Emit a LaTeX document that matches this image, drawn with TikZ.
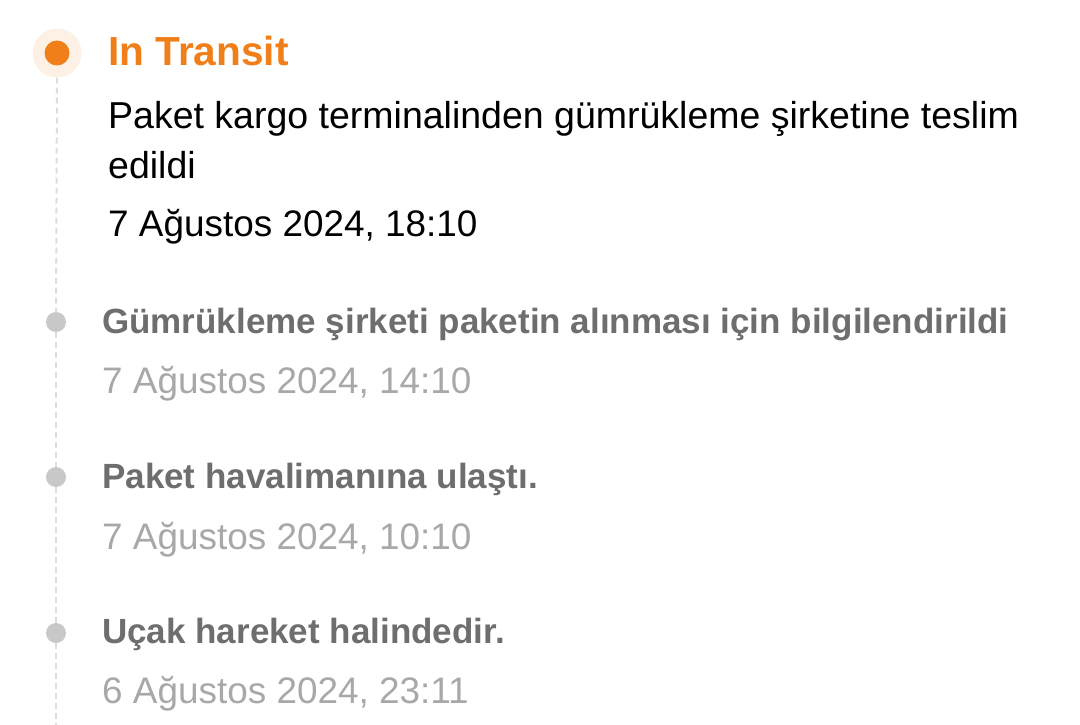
\documentclass[tikz,border=0pt]{standalone}
\usepackage{fontspec}
\setmainfont{Liberation Sans}
\usepackage{tikz}
\usetikzlibrary{positioning}
\definecolor{transitorange}{RGB}{240, 127, 26}
\definecolor{haloorange}{RGB}{253, 241, 230}
\definecolor{dotgray}{RGB}{200, 200, 200}
\definecolor{trackgray}{RGB}{221, 221, 221}
\definecolor{stepgray}{RGB}{110, 110, 110}
\definecolor{dategray}{RGB}{168, 168, 168}

\begin{document}
\begin{tikzpicture}[
    x=1pt, y=-1pt,
    current/.style={circle, fill=transitorange, minimum size=25pt, inner sep=0pt},
    halo/.style={circle, fill=haloorange, minimum size=49pt, inner sep=0pt},
    pastdot/.style={circle, fill=dotgray, minimum size=20pt, inner sep=0pt},
    track/.style={trackgray, line width=2pt, dash pattern=on 6pt off 4pt},
    title/.style={anchor=base west, inner sep=0pt, font=\fontsize{40.6}{50}\selectfont\bfseries, text=transitorange},
    desc/.style={anchor=base west, inner sep=0pt, font=\fontsize{37.5}{50}\selectfont, text=black, align=left},
    stepname/.style={anchor=base west, inner sep=0pt, font=\fontsize{35}{50}\selectfont\bfseries, text=stepgray},
    stepdate/.style={anchor=base west, inner sep=0pt, font=\fontsize{36.9}{50}\selectfont, text=dategray}
]
    \useasboundingbox (0,0) rectangle (1080,725);

    % Current state
    \node[halo] (halo) at (57, 53) {};
    \node[current] (cur) at (57, 53) {};
    \node[title] (transit) at (108, 66) {In Transit};
    \node[desc] (msg) at (108, 178) {Paket kargo terminalinden gümrükleme şirketine teslim\\edildi};
    \node[desc, font=\fontsize{36.9}{50}\selectfont] (curdate) at (108, 236) {7 Ağustos 2024, 18:10};

    % Earlier steps
    \node[pastdot] (g1) at (56, 322) {};
    \node[stepname] (s1) at (102, 333) {Gümrükleme şirketi paketin alınması için bilgilendirildi};
    \node[stepdate] (d1) at (102, 393) {7 Ağustos 2024, 14:10};

    \node[pastdot] (g2) at (56, 477) {};
    \node[stepname] (s2) at (102, 488) {Paket havalimanına ulaştı.};
    \node[stepdate] (d2) at (102, 549) {7 Ağustos 2024, 10:10};

    \node[pastdot] (g3) at (56, 633) {};
    \node[stepname] (s3) at (102, 643) {Uçak hareket halindedir.};
    \node[stepdate] (d3) at (102, 703) {6 Ağustos 2024, 23:11};

    \coordinate (tail) at (56, 725);

    % Track
    \draw[track] (halo.south) -- (g1);
    \draw[track] (g1) -- (g2);
    \draw[track] (g2) -- (g3);
    \draw[track] (g3) -- (tail);
\end{tikzpicture}
\end{document}
